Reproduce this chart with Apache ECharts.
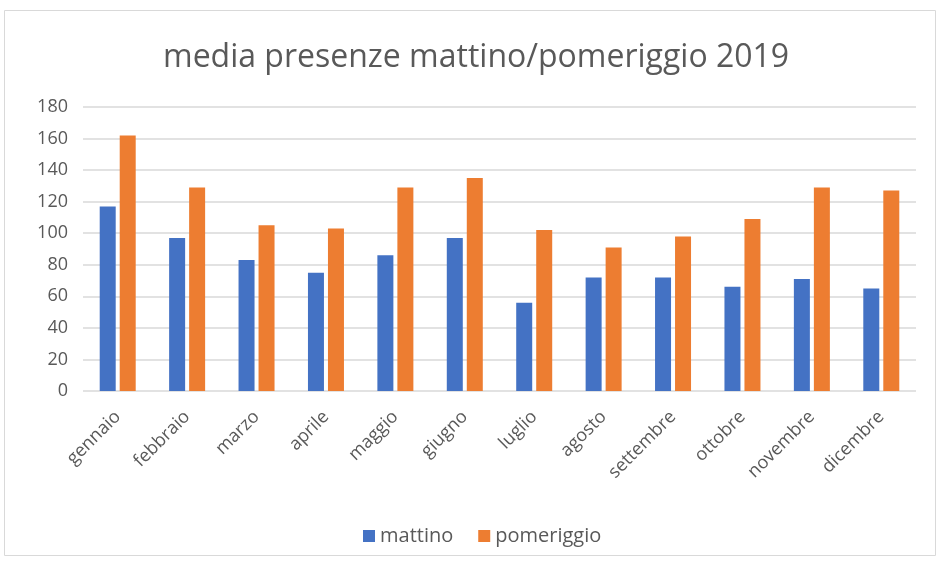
<!DOCTYPE html>
<html>
<head>
<meta charset="utf-8">
<script src="https://cdn.jsdelivr.net/npm/echarts@6/dist/echarts.min.js"></script>
<style>
  html, body { margin: 0; padding: 0; background: #fff; }
  #chart { width: 938px; height: 566px; }
</style>
</head>
<body>
<div id="chart"></div>
<script>
// dati
var mesi = ["gennaio", "febbraio", "marzo", "aprile", "maggio", "giugno",
  "luglio", "agosto", "settembre", "ottobre", "novembre", "dicembre"];
var mattino = [117, 97, 83, 75, 86, 97, 56, 72, 72, 66, 71, 65];
var pomeriggio = [162, 129, 105, 103, 129, 135, 102, 91, 98, 109, 129, 127];
var yTicks = [0, 20, 40, 60, 80, 100, 120, 140, 160, 180];

var font = "'Open Sans', sans-serif";
var grigio = "#595959";

var myChart = echarts.init(document.getElementById("chart"));
var options = {
  animation: false,
  graphic: [
    {
      type: "rect",
      shape: { x: 4.5, y: 10.5, width: 931, height: 545 },
      style: { fill: "none", stroke: "#d9d9d9", lineWidth: 1 },
    },
  ],
  title: {
    text: "media presenze mattino/pomeriggio 2019",
    left: 158,
    top: 37,
    textStyle: {
      fontFamily: font,
      fontSize: 32,
      fontWeight: "normal",
      color: grigio,
    },
  },
  color: ["#4472c4", "#ed7d31"],
  grid: {
    left: 83,
    right: 22,
    top: 107,
    bottom: 175,
  },
  legend: {
    bottom: 15,
    left: 358,
    itemWidth: 12,
    itemHeight: 12,
    itemGap: 25,
    icon: "rect",
    textStyle: { fontFamily: font, fontSize: 20, color: grigio },
    data: ["mattino", "pomeriggio"],
  },
  xAxis: [
    {
      type: "category",
      data: mesi,
      axisLine: { show: false },
      axisTick: { show: false },
      axisLabel: {
        rotate: 45,
        margin: 23,
        fontFamily: font,
        fontSize: 18,
        color: grigio,
      },
    },
  ],
  yAxis: [
    {
      type: "value",
      min: yTicks[0],
      max: yTicks[yTicks.length - 1],
      interval: 20,
      axisLine: { show: false },
      axisTick: { show: false },
      splitLine: { lineStyle: { color: "#d9d9d9", width: 1.5 } },
      axisLabel: {
        margin: 15,
        fontFamily: font,
        fontSize: 18,
        color: grigio,
      },
    },
  ],
  series: [
    { name: "mattino", type: "bar", data: mattino, barWidth: 16, barGap: "25%" },
    { name: "pomeriggio", type: "bar", data: pomeriggio, barWidth: 16, barGap: "25%" },
  ],
};
myChart.setOption(options);
</script>
</body>
</html>
